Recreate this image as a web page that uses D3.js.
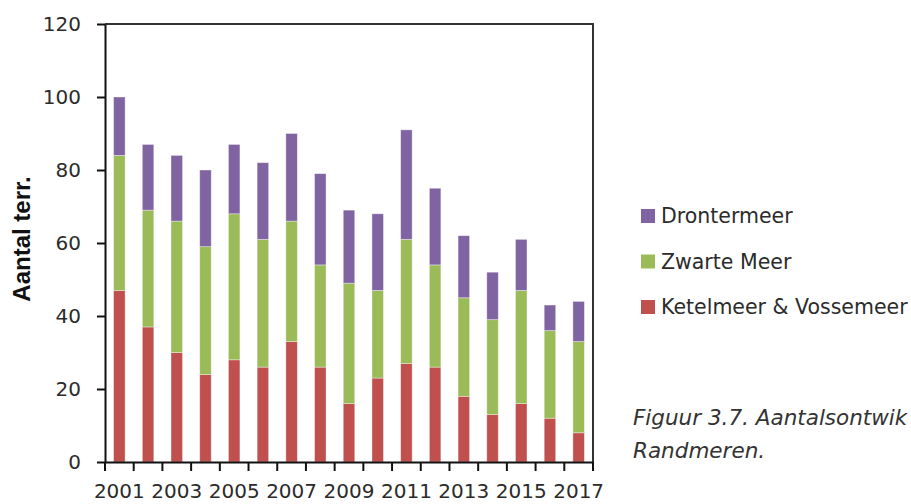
<!DOCTYPE html>
<html>
<head>
<meta charset="utf-8">
<script src="https://cdn.jsdelivr.net/npm/d3@7"></script>
<style>
  body { margin: 0; background: #fff; }
  svg { display: block; }
</style>
</head>
<body>
<div id="viz"></div>
<script>
const width = 911;
const height = 504;
const margin = {top: 24, right: 318, bottom: 42, left: 105};

// Data (territoria per jaar)
const years = d3.range(2001, 2018).map(String);
const ketelmeer = [47, 37, 30, 24, 28, 26, 33, 26, 16, 23, 27, 26, 18, 13, 16, 12, 8];
const zwarteMeer = [37, 32, 36, 35, 40, 35, 33, 28, 33, 24, 34, 28, 27, 26, 31, 24, 25];
const drontermeer = [16, 18, 18, 21, 19, 21, 24, 25, 20, 21, 30, 21, 17, 13, 14, 7, 11];
const yTicks = [0, 20, 40, 60, 80, 100, 120];
const labelYears = years.filter((d, i) => i % 2 === 0);

const seriesNames = ['Ketelmeer & Vossemeer', 'Zwarte Meer', 'Drontermeer'];
const colors = ['#c0504d', '#9bbb59', '#8064a2'];
const legendOrder = ['Drontermeer', 'Zwarte Meer', 'Ketelmeer & Vossemeer'];
const textColor = '#2b2b2b';

const rows = years.map((y, i) => ({
  year: y,
  'Ketelmeer & Vossemeer': ketelmeer[i],
  'Zwarte Meer': zwarteMeer[i],
  'Drontermeer': drontermeer[i]
}));

const stack = d3.stack().keys(seriesNames)(rows);

const svg = d3.select('#viz')
  .append('svg')
  .attr('width', width)
  .attr('height', height);

const x0 = margin.left;
const x1 = width - margin.right;
const yBottom = height - margin.bottom;

const xScale = d3.scaleBand()
  .domain(years)
  .range([x0, x1])
  .paddingInner(0.6)
  .paddingOuter(0.3);

const yScale = d3.scaleLinear()
  .domain([0, 120])
  .range([yBottom, margin.top]);

const color = d3.scaleOrdinal().domain(seriesNames).range(colors);

// plot box (top + right)
svg.append('path')
  .attr('d', `M${x0},${margin.top}H${x1}V${yBottom}`)
  .attr('fill', 'none')
  .attr('stroke', '#333')
  .attr('stroke-width', 2);

// bars
svg.selectAll('.serie')
  .data(stack)
  .join('g')
    .attr('class', 'serie')
    .attr('fill', d => color(d.key))
  .selectAll('rect')
  .data(d => d)
  .join('rect')
    .attr('x', d => xScale(d.data.year))
    .attr('width', xScale.bandwidth())
    .attr('y', d => yScale(d[1]))
    .attr('height', d => yScale(d[0]) - yScale(d[1]))
    .attr('stroke', 'rgba(255,255,255,0.45)')
    .attr('stroke-width', 0.8);

// y axis
const yAxis = svg.append('g')
  .attr('transform', `translate(${x0},0)`)
  .call(d3.axisLeft(yScale)
    .tickValues(yTicks)
    .tickSize(8)
    .tickPadding(16)
    .tickSizeOuter(0));
yAxis.select('.domain').attr('stroke', '#111').attr('stroke-width', 2);
yAxis.selectAll('.tick line').attr('stroke', '#111').attr('stroke-width', 2);
yAxis.selectAll('text')
  .attr('font-family', 'DejaVu Sans, sans-serif')
  .attr('font-size', 20)
  .attr('fill', textColor);

// x axis: labels every other year, ticks on band boundaries
const xAxis = svg.append('g')
  .attr('transform', `translate(0,${yBottom})`)
  .call(d3.axisBottom(xScale)
    .tickValues(labelYears)
    .tickSize(0)
    .tickPadding(22)
    .tickSizeOuter(0));
xAxis.select('.domain').attr('stroke', '#111').attr('stroke-width', 2);
xAxis.selectAll('text')
  .attr('font-family', 'DejaVu Sans, sans-serif')
  .attr('font-size', 20)
  .attr('fill', textColor);

const gap = (xScale.step() - xScale.bandwidth()) / 2;
const boundaries = years.map(y => xScale(y) - gap).concat([x1]);
xAxis.selectAll('.bound')
  .data(boundaries)
  .join('line')
    .attr('class', 'bound')
    .attr('x1', d => d)
    .attr('x2', d => d)
    .attr('y1', 0)
    .attr('y2', 9)
    .attr('stroke', '#111')
    .attr('stroke-width', 2);

// y title
svg.append('text')
  .attr('transform', `translate(30,239) rotate(-90)`)
  .attr('text-anchor', 'middle')
  .attr('font-family', 'Liberation Sans, Arial, sans-serif')
  .attr('font-weight', 'bold')
  .attr('font-size', 24)
  .attr('fill', '#111')
  .text('Aantal terr.');

// legend
const legend = svg.selectAll('.legend')
  .data(legendOrder)
  .join('g')
    .attr('class', 'legend')
    .attr('transform', (d, i) => `translate(641,${209 + i * 45.5})`);

legend.append('rect')
  .attr('width', 14)
  .attr('height', 14)
  .attr('fill', d => color(d));

legend.append('text')
  .attr('x', 20)
  .attr('y', 14)
  .attr('font-family', 'DejaVu Sans, sans-serif')
  .attr('font-size', 20.5)
  .attr('fill', textColor)
  .text(d => d);

// caption (only the part visible in the source crop)
const caption = svg.append('text')
  .attr('font-family', 'DejaVu Sans, sans-serif')
  .attr('font-style', 'italic')
  .attr('font-size', 21.5)
  .attr('fill', '#333');
caption.append('tspan').attr('x', 633).attr('y', 425).text('Figuur 3.7. Aantalsontwik');
caption.append('tspan').attr('x', 633).attr('y', 458).text('Randmeren.');
</script>
</body>
</html>
